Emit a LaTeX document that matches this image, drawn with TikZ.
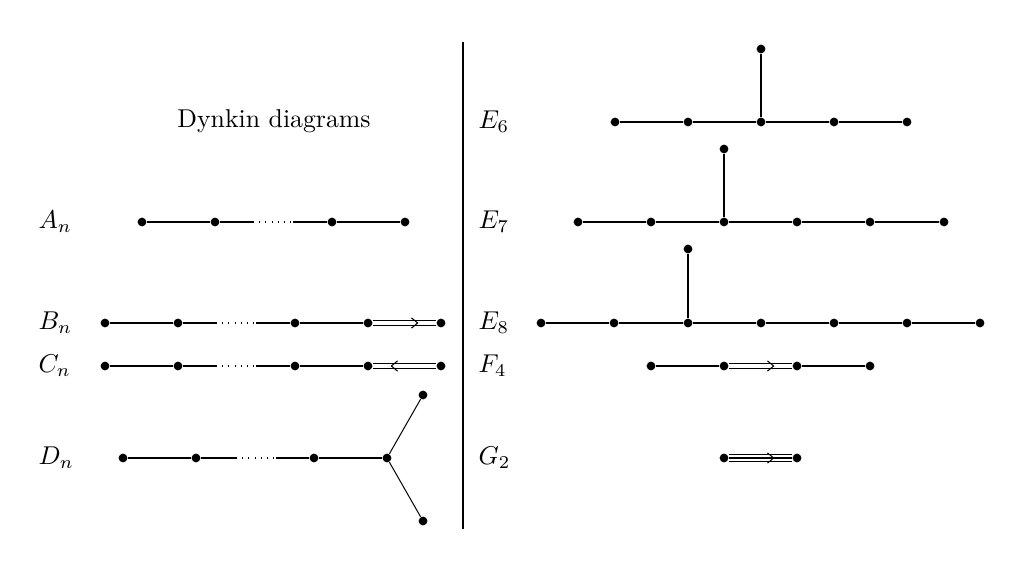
\documentclass[tikz,border=0pt]{standalone}
\usetikzlibrary{calc}
\tikzset{
  dot/.style={circle,fill=black,draw=none,inner sep=0pt,minimum size=3.4pt},
  bond/.style={line width=0.4pt},
  dbond/.style={line width=0.4pt,double,double distance=1.2pt},
  tbond/.style={line width=0.4pt,double,double distance=2.5pt},
  lbl/.style={anchor=west,inner sep=0pt},
  chev/.pic={\draw[line width=0.4pt] (-2.4pt,2pt)--(0,0)--(-2.4pt,-2pt);}
}
\begin{document}
\begin{tikzpicture}[x=0.013637cm,y=-0.013637cm]
\useasboundingbox (0,0) rectangle (1024,573);
% separator
\coordinate (s1) at (463,42);
\coordinate (s2) at (463,529);
\draw[bond] (s1) -- (s2);
\node (title) at (274,121) {Dynkin diagrams};
% labels
\node[lbl] (lA) at (38,222) {$A_n$};
\node[lbl] (lB) at (38,323) {$B_n$};
\node[lbl] (lC) at (38,366) {$C_n$};
\node[lbl] (lD) at (38,458) {$D_n$};
\node[lbl] (lE6) at (478,122) {$E_6$};
\node[lbl] (lE7) at (478,222) {$E_7$};
\node[lbl] (lE8) at (478,323) {$E_8$};
\node[lbl] (lF4) at (478,366) {$F_4$};
\node[lbl] (lG2) at (478,458) {$G_2$};
% A_n
\node[dot] (a1) at (142,222) {};
\node[dot] (a2) at (215,222) {};
\node[dot] (a3) at (332,222) {};
\node[dot] (a4) at (405,222) {};
\coordinate (ad1) at (253,222);
\coordinate (ad2) at (293,222);
\draw[bond] (a1) -- (a2) -- (ad1);
\draw[bond,dotted] (ad1) -- (ad2);
\draw[bond] (ad2) -- (a3) -- (a4);
% B_n
\node[dot] (b1) at (105,323) {};
\node[dot] (b2) at (178,323) {};
\node[dot] (b3) at (295,323) {};
\node[dot] (b4) at (368,323) {};
\node[dot] (b5) at (441,323) {};
\coordinate (bd1) at (216,323);
\coordinate (bd2) at (256,323);
\draw[bond] (b1) -- (b2) -- (bd1);
\draw[bond,dotted] (bd1) -- (bd2);
\draw[bond] (bd2) -- (b3) -- (b4);
\draw[dbond] (b4) -- (b5);
\pic at ($(b4)!0.68!(b5)$) {chev};
% C_n
\node[dot] (c1) at (105,366) {};
\node[dot] (c2) at (178,366) {};
\node[dot] (c3) at (295,366) {};
\node[dot] (c4) at (368,366) {};
\node[dot] (c5) at (441,366) {};
\coordinate (cd1) at (216,366);
\coordinate (cd2) at (256,366);
\draw[bond] (c1) -- (c2) -- (cd1);
\draw[bond,dotted] (cd1) -- (cd2);
\draw[bond] (cd2) -- (c3) -- (c4);
\draw[dbond] (c4) -- (c5);
\pic[rotate=180] at ($(c4)!0.32!(c5)$) {chev};
% D_n
\node[dot] (d1) at (123,458) {};
\node[dot] (d2) at (196,458) {};
\node[dot] (d3) at (314,458) {};
\node[dot] (d4) at (387,458) {};
\node[dot] (d5) at (423,395) {};
\node[dot] (d6) at (423,521) {};
\coordinate (dd1) at (236,458);
\coordinate (dd2) at (276,458);
\draw[bond] (d1) -- (d2) -- (dd1);
\draw[bond,dotted] (dd1) -- (dd2);
\draw[bond] (dd2) -- (d3) -- (d4);
\draw[bond] (d4) -- (d5);
\draw[bond] (d4) -- (d6);
% E_6
\node[dot] (e61) at (615,122) {};
\node[dot] (e62) at (688,122) {};
\node[dot] (e63) at (761,122) {};
\node[dot] (e64) at (834,122) {};
\node[dot] (e65) at (907,122) {};
\node[dot] (e66) at (761,49) {};
\draw[bond] (e61) -- (e62) -- (e63) -- (e64) -- (e65);
\draw[bond] (e63) -- (e66);
% E_7
\node[dot] (e71) at (578,222) {};
\node[dot] (e72) at (651,222) {};
\node[dot] (e73) at (724,222) {};
\node[dot] (e74) at (797,222) {};
\node[dot] (e75) at (870,222) {};
\node[dot] (e76) at (944,222) {};
\node[dot] (e77) at (724,149) {};
\draw[bond] (e71) -- (e72) -- (e73) -- (e74) -- (e75) -- (e76);
\draw[bond] (e73) -- (e77);
% E_8
\node[dot] (e81) at (541,323) {};
\node[dot] (e82) at (614,323) {};
\node[dot] (e83) at (688,323) {};
\node[dot] (e84) at (761,323) {};
\node[dot] (e85) at (834,323) {};
\node[dot] (e86) at (907,323) {};
\node[dot] (e87) at (980,323) {};
\node[dot] (e88) at (688,249) {};
\draw[bond] (e81) -- (e82) -- (e83) -- (e84) -- (e85) -- (e86) -- (e87);
\draw[bond] (e83) -- (e88);
% F_4
\node[dot] (f1) at (651,366) {};
\node[dot] (f2) at (724,366) {};
\node[dot] (f3) at (797,366) {};
\node[dot] (f4) at (870,366) {};
\draw[bond] (f1) -- (f2);
\draw[dbond] (f2) -- (f3);
\draw[bond] (f3) -- (f4);
\pic at ($(f2)!0.68!(f3)$) {chev};
% G_2
\node[dot] (g1) at (724,458) {};
\node[dot] (g2) at (797,458) {};
\draw[tbond] (g1) -- (g2);
\draw[bond] (g1) -- (g2);
\pic at ($(g1)!0.68!(g2)$) {chev};
\end{tikzpicture}
\end{document}
